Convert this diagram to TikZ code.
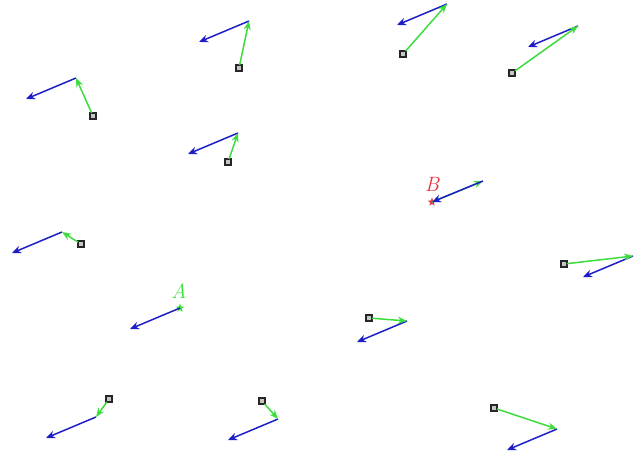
\documentclass[tikz,border=0pt]{standalone}
\usetikzlibrary{arrows.meta,shapes.geometric,calc}
\definecolor{vgreen}{RGB}{60,220,60}
\definecolor{vblue}{RGB}{30,30,200}
\definecolor{vred}{RGB}{235,50,60}
\tikzset{
  pt/.style={draw=black!85,fill=gray!45,line width=1.3pt,minimum size=6pt,inner sep=0pt,outer sep=0pt},
  garrow/.style={draw=vgreen,line width=1.5pt,-{Stealth[length=9pt,width=7pt]}},
  barrow/.style={draw=vblue,line width=1.5pt,-{Stealth[length=9pt,width=7.5pt]}},
  starpt/.style={star,star points=5,star point ratio=2.4,inner sep=0pt,minimum size=9pt,outer sep=0pt},
  lab/.style={font=\huge\itshape,inner sep=0pt}
}
\begin{document}
\begin{tikzpicture}[x=1pt,y=-1pt]
\useasboundingbox (0,0) rectangle (634,456);
% squares (start), green ends, blue ends
\foreach \i/\px/\py/\gx/\gy in {
  1/93/116/76/78,
  2/239/68/249/21,
  3/403/54/447/4,
  4/512/73/578/26,
  5/228/162/238/133,
  7/81/244/62/232,
  9/369/318/407/321,
  10/564/264/633/256,
  11/109/399/96/417,
  12/262/401/278/419,
  13/494/408/557/429}{
  \node[pt] (p\i) at (\px,\py) {};
  \coordinate (g\i) at (\gx,\gy);
  \coordinate (b\i) at ($(g\i)+(-50,21)$);
  \draw[barrow] (g\i) -- (b\i);
  \draw[garrow] (p\i) -- (g\i);
}
% A
\node[starpt,fill=vgreen] (sA) at (180,308) {};
\node[lab,text=vgreen] (lA) at (179,291) {A};
\coordinate (bA) at (130,329);
\draw[barrow] (sA.center) -- (bA);
% B
\node[starpt,fill=vred] (sB) at (432,202) {};
\node[lab,text=vred] (lB) at (432,184) {B};
\coordinate (gB) at (483,181);
\draw[garrow] (sB.center) -- (gB);
\draw[barrow] (gB) -- (sB.center);
\end{tikzpicture}
\end{document}
